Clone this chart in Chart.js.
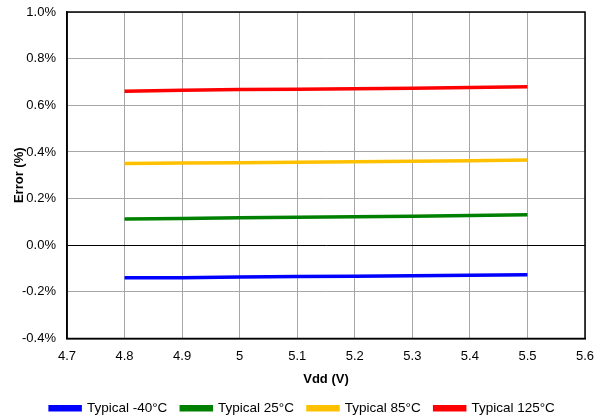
<!DOCTYPE html>
<html>
<head>
<meta charset="utf-8">
<script src="https://cdn.jsdelivr.net/npm/chart.js@4.4.0/dist/chart.umd.min.js"></script>
<style>
  body { margin: 0; background: #fff; }
</style>
</head>
<body>
<canvas id="errChart" width="605" height="419"></canvas>
<script>
const vdd = [4.8, 4.9, 5.0, 5.1, 5.2, 5.3, 5.4, 5.5];
const errMinus40 = [-0.140, -0.139, -0.136, -0.134, -0.133, -0.131, -0.129, -0.127];
const err25 = [0.112, 0.115, 0.118, 0.120, 0.122, 0.124, 0.127, 0.131];
const err85 = [0.350, 0.352, 0.354, 0.356, 0.358, 0.360, 0.362, 0.365];
const err125 = [0.660, 0.664, 0.668, 0.669, 0.671, 0.673, 0.676, 0.680];
const seriesNames = ["Typical -40°C", "Typical 25°C", "Typical 85°C", "Typical 125°C"];
const seriesColors = ["#0000ff", "#008000", "#ffc000", "#ff0000"];

const ctx = document.getElementById("errChart").getContext("2d");
Chart.defaults.font.family = "'Liberation Sans', Arial, sans-serif";
Chart.defaults.color = "#000";

const allValues = [errMinus40, err25, err85, err125];
var errChart = new Chart(ctx, {
  type: "line",
  data: {
    datasets: allValues.map((vals, i) => ({
      label: seriesNames[i],
      data: vdd.map((v, j) => ({ x: v, y: vals[j] })),
      borderColor: seriesColors[i],
      backgroundColor: seriesColors[i],
      borderWidth: 3.5,
      pointRadius: 0,
      tension: 0
    }))
  },
  options: {
    responsive: false,
    animation: false,
    layout: { padding: { left: 0, right: 0, top: 12, bottom: -6 } },
    scales: {
      x: {
        type: "linear",
        min: 4.7,
        max: 5.6,
        afterFit: s => { s.height = 49; s.paddingRight = 20; },
        ticks: {
          stepSize: 0.1,
          font: { size: 13 },
          padding: 10,
          callback: v => String(parseFloat(v.toFixed(1)))
        },
        grid: { color: "#a6a6a6", lineWidth: 1, drawTicks: false },
        border: { color: "#000", width: 1.5 },
        title: { display: true, text: "Vdd (V)", font: { size: 13, weight: "bold" }, padding: { top: 0, bottom: 0 } }
      },
      y: {
        min: -0.4,
        max: 1.0,
        afterFit: s => { s.width = 67; s.paddingTop = 0; s.paddingBottom = 0; },
        ticks: {
          stepSize: 0.2,
          font: { size: 13 },
          padding: 11,
          callback: v => (Math.abs(v) < 1e-9 ? 0 : v).toFixed(1) + "%"
        },
        grid: {
          color: c => (Math.abs(c.tick.value) < 1e-9 ? "#000" : "#a6a6a6"),
          lineWidth: 1,
          drawTicks: false
        },
        border: { color: "#000", width: 1.5 },
        title: { display: true, text: "Error (%)", font: { size: 13, weight: "bold" }, padding: { top: 12, bottom: 0 } }
      }
    },
    plugins: {
      legend: {
        position: "bottom",
        labels: { boxWidth: 30, boxHeight: 3, padding: 14, font: { size: 13.5 } }
      },
      tooltip: { enabled: false }
    }
  },
  plugins: [{
    id: "frame",
    afterDraw(chart) {
      const a = chart.chartArea, c = chart.ctx;
      c.save();
      c.strokeStyle = "#000";
      c.lineWidth = 1.5;
      c.strokeRect(a.left, a.top, a.right - a.left, a.bottom - a.top);
      c.restore();
    }
  }]
});
</script>
</body>
</html>
